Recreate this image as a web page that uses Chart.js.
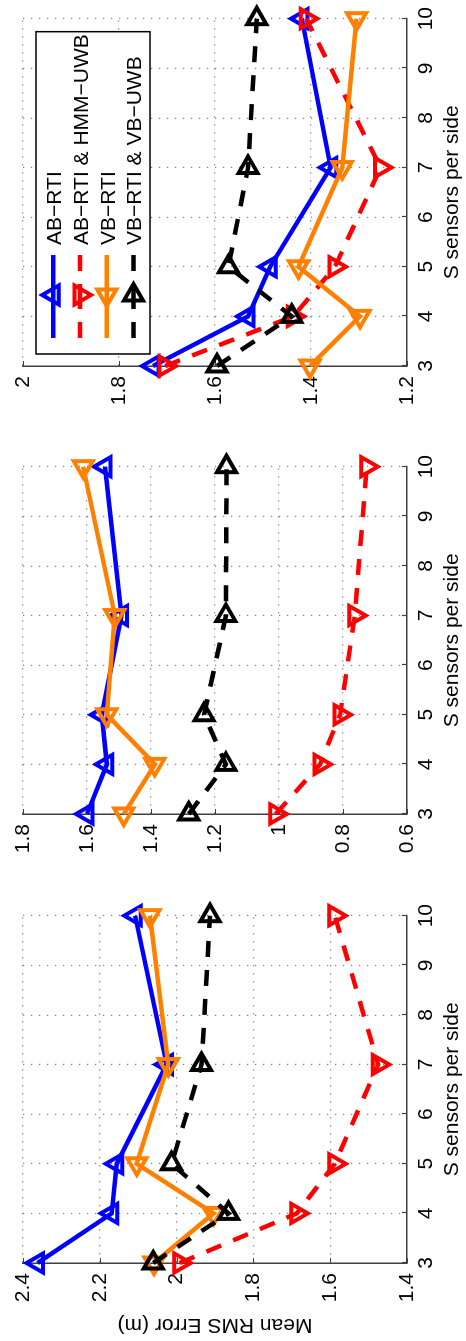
<!DOCTYPE html>
<html>
<head>
<meta charset="utf-8">
<script src="https://cdn.jsdelivr.net/npm/chart.js@4.4.1/dist/chart.umd.min.js"></script>
<style>
  html, body { margin: 0; padding: 0; background: #fff; overflow: hidden; width: 466px; height: 1341px; }
  /* the figure is laid out landscape and turned a quarter turn for the page */
  #fig { position: absolute; left: 0; top: 0; width: 1341px; height: 466px; background: #fff;
         transform-origin: 0 0; transform: translate(0, 1341px) rotate(-90deg); }
  #fig canvas { position: absolute; top: 0; }
</style>
</head>
<body>
<div id="fig">
  <canvas id="c1" width="444" height="466" style="left:0px;width:444px;height:466px"></canvas>
  <canvas id="c2" width="446" height="466" style="left:447px;width:446px;height:466px"></canvas>
  <canvas id="c3" width="446" height="466" style="left:895px;width:446px;height:466px"></canvas>
</div>
<script>
// Sensors per side at which each configuration was evaluated
const sensors = [3, 4, 5, 7, 10];

const seriesNames = ['AB\u2212RTI', 'AB\u2212RTI & HMM\u2212UWB', 'VB\u2212RTI', 'VB\u2212RTI & VB\u2212UWB'];

// Mean RMS error (m), left panel
const abRti1 = [2.362, 2.169, 2.156, 2.026, 2.108];
const abHmm1 = [1.992, 1.687, 1.588, 1.475, 1.588];
const vbRti1 = [2.059, 1.904, 2.104, 2.022, 2.069];
const vbVb1  = [2.061, 1.865, 2.013, 1.935, 1.913];

// Mean RMS error (m), middle panel
const abRti2 = [1.600, 1.538, 1.554, 1.492, 1.544];
const abHmm2 = [1.010, 0.872, 0.809, 0.763, 0.726];
const vbRti2 = [1.485, 1.388, 1.538, 1.513, 1.612];
const vbVb2  = [1.282, 1.166, 1.234, 1.166, 1.164];

// Mean RMS error (m), right panel
const abRti3 = [1.729, 1.531, 1.485, 1.359, 1.419];
const abHmm3 = [1.704, 1.437, 1.350, 1.255, 1.410];
const vbRti3 = [1.402, 1.298, 1.426, 1.335, 1.305];
const vbVb3  = [1.596, 1.440, 1.572, 1.531, 1.513];

// y-axis ranges of the three panels
const yRange1 = [1.4, 2.4];
const yRange2 = [0.6, 1.8];
const yRange3 = [1.2, 2.0];

const xTitle = 'S sensors per side';
const yTitle = 'Mean RMS Error (m)';

// series styling
const seriesColors = ['#0000ff', '#ff0000', '#ff8000', '#000000'];
const seriesDash = [[], [16, 13], [], [16, 13]];
const markerRotation = [0, 180, 270, 90];   // ^  v  <  >

const FONT = "'Liberation Sans', Arial, Helvetica, sans-serif";
Chart.defaults.font.family = FONT;
Chart.defaults.font.size = 21;
Chart.defaults.color = '#000';

function triangle(ctx, x, y, r, rotDeg) {
  let rad = rotDeg * Math.PI / 180;
  ctx.beginPath();
  for (let k = 0; k < 3; k++) {
    const px = x + Math.sin(rad) * r, py = y - Math.cos(rad) * r;
    if (k === 0) ctx.moveTo(px, py); else ctx.lineTo(px, py);
    rad += 2 * Math.PI / 3;
  }
  ctx.closePath();
}

// small inward tick marks on both axes
const inwardTicks = {
  id: 'inwardTicks',
  beforeDatasetsDraw(chart) {
    const {ctx, chartArea: a, scales: {x, y}} = chart;
    ctx.save();
    ctx.strokeStyle = '#404040';
    ctx.lineWidth = 1.2;
    ctx.beginPath();
    x.ticks.forEach(t => {
      const px = Math.round(x.getPixelForValue(t.value)) + 0.5;
      ctx.moveTo(px, a.bottom); ctx.lineTo(px, a.bottom - 5);
    });
    y.ticks.forEach(t => {
      const py = Math.round(y.getPixelForValue(t.value)) + 0.5;
      ctx.moveTo(a.left, py); ctx.lineTo(a.left + 5, py);
    });
    ctx.stroke();
    ctx.restore();
  }
};

// boxed legend with line sample and marker per series
const boxLegend = {
  id: 'boxLegend',
  afterDatasetsDraw(chart, args, opts) {
    if (!opts.show) return;
    const {ctx, chartArea: a} = chart;
    const x0 = a.left + 12, x1 = a.right - 13, y0 = a.top + 13, h = 114;
    ctx.save();
    ctx.fillStyle = '#fff';
    ctx.fillRect(x0, y0, x1 - x0, h);
    ctx.lineWidth = 1.5;
    ctx.strokeStyle = '#000';
    ctx.strokeRect(x0, y0, x1 - x0, h);
    chart.data.datasets.forEach((ds, i) => {
      const yy = y0 + 17.3 + i * 26.7;
      const lx0 = x0 + 16, lx1 = x0 + 99, mx = x0 + 59;
      ctx.strokeStyle = ds.borderColor;
      ctx.lineWidth = ds.borderWidth;
      ctx.lineCap = 'butt';
      ctx.beginPath();
      if (ds.borderDash.length) {
        ctx.moveTo(lx0, yy); ctx.lineTo(lx0 + 16, yy);
        ctx.moveTo(lx0 + 29, yy); ctx.lineTo(lx0 + 54, yy);
        ctx.moveTo(lx1 - 16, yy); ctx.lineTo(lx1, yy);
      } else {
        ctx.moveTo(lx0, yy); ctx.lineTo(lx1, yy);
      }
      ctx.stroke();
      ctx.lineWidth = ds.pointBorderWidth;
      triangle(ctx, mx, yy, ds.pointRadius, ds.pointRotation);
      ctx.stroke();
      ctx.fillStyle = '#000';
      ctx.font = '21px ' + FONT;
      ctx.textAlign = 'left';
      ctx.textBaseline = 'alphabetic';
      ctx.fillText(ds.label, x0 + 109, yy + 7.8);
    });
    ctx.restore();
  }
};

function makePanel(id, series, yRange, yAxisWidth, showYTitle, showLegend) {
  const datasets = series.map((vals, i) => ({
    label: seriesNames[i],
    data: sensors.map((s, k) => ({x: s, y: vals[k]})),
    borderColor: seriesColors[i],
    backgroundColor: 'rgba(0,0,0,0)',
    borderWidth: 4.5,
    borderDash: seriesDash[i],
    borderCapStyle: 'butt',
    pointStyle: 'triangle',
    pointRotation: markerRotation[i],
    pointRadius: 11,
    pointHoverRadius: 11,
    pointBorderWidth: 4,
    pointBorderColor: seriesColors[i],
    pointBackgroundColor: 'rgba(0,0,0,0)',
    tension: 0,
    clip: false,
    order: 3 - i
  }));
  return new Chart(document.getElementById(id), {
    type: 'line',
    data: {datasets},
    options: {
      responsive: false,
      animation: false,
      events: [],
      layout: {padding: {top: 23, right: 15, bottom: 0, left: 0}},
      plugins: {
        legend: {display: false},
        tooltip: {enabled: false},
        boxLegend: {show: showLegend}
      },
      scales: {
        x: {
          type: 'linear', min: 3, max: 10,
          ticks: {stepSize: 1, padding: 7, color: '#000', font: {size: 21}},
          grid: {color: '#808080', lineWidth: 1.2, drawTicks: false},
          border: {display: true, color: '#404040', width: 1.5, dash: [1.3, 6.7]},
          title: {display: true, text: xTitle, color: '#000', font: {size: 21}, padding: {top: 0, bottom: 1}},
          afterFit: s => { s.height = 59; }
        },
        y: {
          type: 'linear', min: yRange[0], max: yRange[1],
          ticks: {stepSize: 0.2, padding: 10, color: '#000', font: {size: 21},
                  callback: v => String(Math.round(v * 10) / 10)},
          grid: {color: '#808080', lineWidth: 1.2, drawTicks: false},
          border: {display: true, color: '#404040', width: 1.5, dash: [1.3, 6.7]},
          title: {display: showYTitle, text: yTitle, color: '#000', font: {size: 21}, padding: {top: 4, bottom: 0}},
          afterFit: s => { s.width = yAxisWidth; }
        }
      }
    },
    plugins: [inwardTicks, boxLegend]
  });
}

makePanel('c1', [abRti1, abHmm1, vbRti1, vbVb1], yRange1, 78, true, false);
makePanel('c2', [abRti2, abHmm2, vbRti2, vbVb2], yRange2, 80, false, false);
makePanel('c3', [abRti3, abHmm3, vbRti3, vbVb3], yRange3, 80, false, true);
</script>
</body>
</html>
